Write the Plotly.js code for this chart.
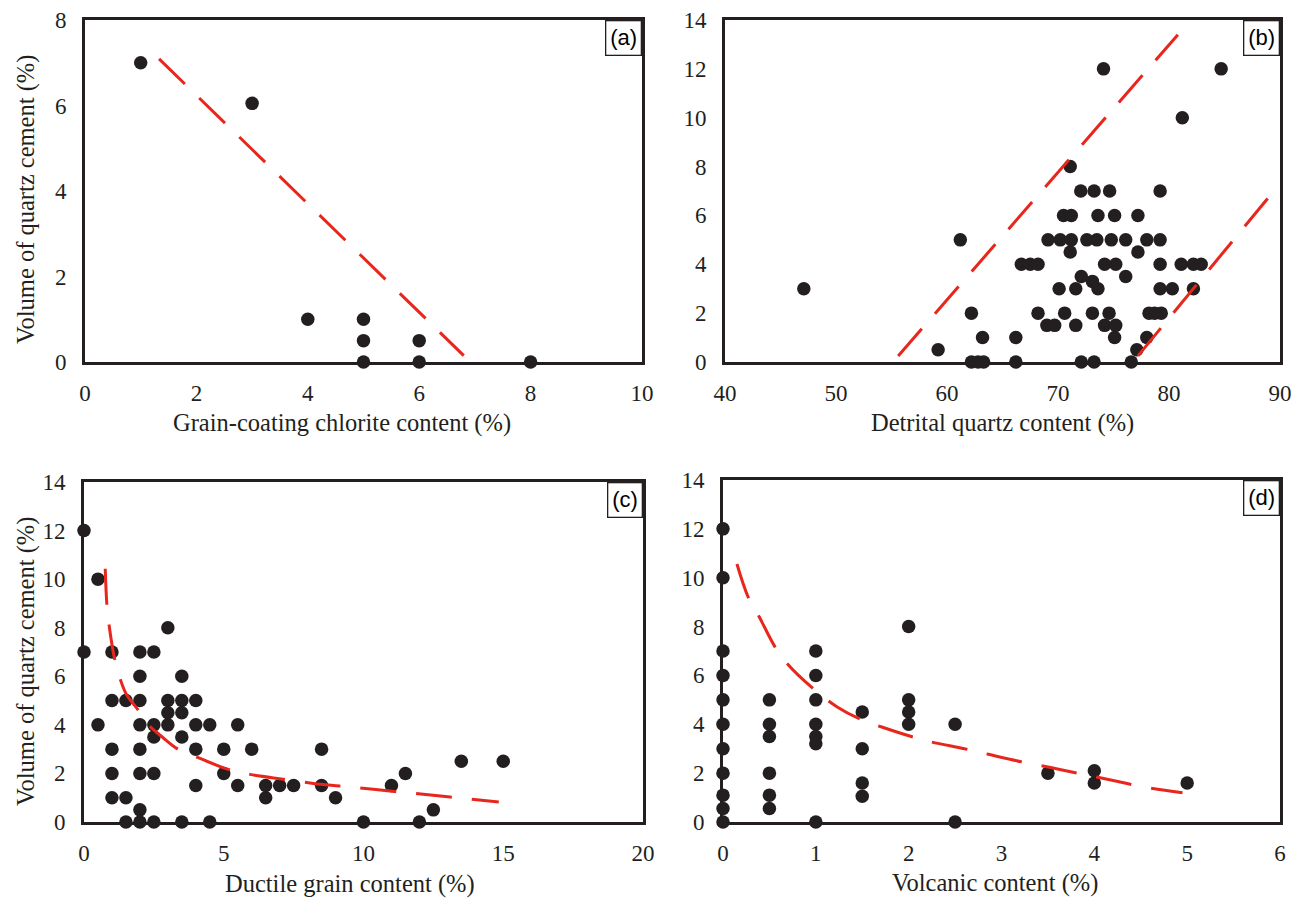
<!DOCTYPE html>
<html>
<head>
<meta charset="utf-8">
<script src="https://cdn.plot.ly/plotly-3.0.1.min.js"></script>
<style>html,body{margin:0;padding:0;background:#fff;}#chart{width:1309px;height:902px;}</style>
</head>
<body>
<div id="chart"></div>
<script>
// ---- Panel (a): grain-coating chlorite ----
const aX = [1, 3, 4, 5, 5, 5, 6, 6, 8];
const aY = [7, 6.05, 1, 1, 0.5, 0, 0.5, 0, 0];
const aLineX = [1.33, 6.8];
const aLineY = [7.09, 0.15];

// ---- Panel (b): detrital quartz ----
const bX = [47.1, 59.2, 61.2, 62.2, 62.2, 62.8, 63.3, 63.2, 66.2, 66.2, 66.7, 67.5, 68.2, 68.2, 69.0, 69.7,
  69.1, 70.1, 70.2, 70.6, 70.5, 71.2, 71.1, 71.2, 71.1, 71.6, 71.6, 72.05, 72.1, 72.1, 72.6, 73.1, 73.1, 73.25,
  73.25, 73.5, 73.6, 73.6, 74.1, 74.2, 74.2, 74.65, 74.6, 74.8, 75.1, 75.2, 75.2, 75.1, 76.1, 76.1, 76.6, 77.1,
  77.2, 77.2, 78.0, 78.0, 78.2, 78.7, 79.2, 79.2, 79.2, 79.2, 79.3, 80.3, 81.2, 81.1, 82.2, 82.9, 82.2, 84.7];
const bY = [3, 0.5, 5, 2, 0, 0, 0, 1, 1, 0, 4, 4, 4, 2, 1.5, 1.5,
  5, 3, 5, 2, 6, 6, 8, 5, 4.5, 3, 1.5, 7, 3.5, 0, 5, 3.3, 2, 7,
  0, 5, 6, 3, 12, 4, 1.5, 7, 2, 5, 6, 4, 1.5, 1, 5, 3.5, 0, 0.5,
  6, 4.5, 5, 1, 2, 2, 7, 5, 4, 3, 2, 3, 10, 4, 4, 4, 3, 12];
const bLine1X = [55.6, 80.8];
const bLine1Y = [0.25, 13.4];
const bLine2X = [77.2, 88.9];
const bLine2Y = [0.25, 6.7];

// ---- Panel (c): ductile grains ----
const cX = [0, 0, 0.5, 0.5, 1, 1, 1, 1, 1, 1.5, 1.5, 1.5, 2, 2, 2, 2, 2, 2, 2, 2,
  2.5, 2.5, 2.5, 2.5, 2.5, 3, 3, 3, 3, 3.5, 3.5, 3.5, 3.5, 3.5, 4, 4, 4, 4, 4.5, 4.5,
  5, 5, 5.5, 5.5, 6, 6.5, 6.5, 7, 7.5, 8.5, 8.5, 9, 10, 11, 11.5, 12, 12.5, 13.5, 15];
const cY = [12, 7, 10, 4, 7, 5, 3, 2, 1, 5, 1, 0, 7, 6, 5, 4, 3, 2, 0.5, 0,
  7, 4, 3.5, 2, 0, 8, 5, 4.5, 4, 6, 5, 4.5, 3.5, 0, 5, 4, 3, 1.5, 4, 0,
  3, 2, 4, 1.5, 3, 1.5, 1, 1.5, 1.5, 3, 1.5, 1, 0, 1.5, 2, 0, 0.5, 2.5, 2.5];
const cCurveX = [0.76, 0.82, 0.90, 1.01, 1.10, 1.30, 1.52, 1.94, 2.35, 2.83, 3.33, 4.00, 5.10, 5.94, 7.13, 8.21, 9.14, 11.1, 13.1, 14.84];
const cCurveY = [10.43, 8.92, 8.09, 7.24, 6.69, 5.87, 5.25, 4.61, 3.95, 3.47, 3.02, 2.69, 2.19, 1.96, 1.76, 1.59, 1.48, 1.26, 1.03, 0.82];

// ---- Panel (d): volcanic ----
const dX = [0, 0, 0, 0, 0, 0, 0, 0, 0, 0, 0, 0.5, 0.5, 0.5, 0.5, 0.5, 0.5,
  1, 1, 1, 1, 1, 1, 1, 1.5, 1.5, 1.5, 1.5, 2, 2, 2, 2, 2.5, 2.5, 3.5, 4, 4, 5];
const dY = [12, 10, 7, 6, 5, 4, 3, 2, 1.1, 0.55, 0, 5, 4, 3.5, 2, 1.1, 0.55,
  7, 6, 5, 4, 3.5, 3.2, 0, 4.5, 3, 1.6, 1.05, 8, 5, 4.5, 4, 4, 0, 2, 2.1, 1.6, 1.6];
const dCurveX = [0.15, 0.27, 0.39, 0.56, 0.69, 0.96, 1.23, 1.49, 1.71, 2.02, 2.24, 2.6, 2.86, 3.22, 3.53, 3.84, 4.19, 4.54, 4.95];
const dCurveY = [10.56, 9.22, 8.4, 7.17, 6.49, 5.5, 4.71, 4.19, 3.89, 3.51, 3.28, 3.0, 2.77, 2.46, 2.23, 1.98, 1.71, 1.43, 1.20];

// ---- Text ----
const yTitle = 'Volume of quartz cement (%)';
const xTitles = ['Grain-coating chlorite content (%)', 'Detrital quartz content (%)', 'Ductile grain content (%)', 'Volcanic content (%)'];
const panelLabels = ['(a)', '(b)', '(c)', '(d)'];

const INK = '#231f20';
const RED = '#e8261c';
const W = 1309, H = 902;
const DASH = '36px,20px';
const SERIF = 'Liberation Serif';

function pts(x, y, xa, ya) {
  return {x: x, y: y, xaxis: xa, yaxis: ya, type: 'scatter', mode: 'markers',
    marker: {size: 13.5, color: INK}, cliponaxis: false, hoverinfo: 'skip'};
}
function ln(x, y, xa, ya, shape) {
  return {x: x, y: y, xaxis: xa, yaxis: ya, type: 'scatter', mode: 'lines',
    line: {color: RED, width: 3, dash: DASH, shape: shape || 'linear', smoothing: 1}, hoverinfo: 'skip'};
}

const data = [
  pts(aX, aY, 'x', 'y'), ln(aLineX, aLineY, 'x', 'y'),
  pts(bX, bY, 'x2', 'y2'), ln(bLine1X, bLine1Y, 'x2', 'y2'), ln(bLine2X, bLine2Y, 'x2', 'y2'),
  pts(cX, cY, 'x3', 'y3'), ln(cCurveX, cCurveY, 'x3', 'y3', 'spline'),
  pts(dX, dY, 'x4', 'y4'), ln(dCurveX, dCurveY, 'x4', 'y4', 'spline')
];

function axis(d0, d1, range, dtick, anchor, isX) {
  return {
    domain: isX ? [d0 / W, d1 / W] : [1 - d1 / H, 1 - d0 / H],
    range: range, dtick: dtick, tick0: range[0], tickmode: 'linear',
    showline: true, mirror: true, linecolor: INK, linewidth: 2.8,
    ticks: '', showgrid: false, zeroline: false, anchor: anchor,
    tickfont: {family: SERIF, size: 23, color: INK},
    ticklabelstandoff: isX ? 9 : 11, fixedrange: true
  };
}

const layout = {
  width: W, height: H,
  margin: {l: 0, r: 0, t: 0, b: 0},
  paper_bgcolor: '#ffffff', plot_bgcolor: '#ffffff',
  showlegend: false,
  font: {family: SERIF, color: INK},
  xaxis: axis(85, 642, [0, 10], 2, 'y', true),
  yaxis: axis(20, 362, [0, 8], 2, 'x', false),
  xaxis2: axis(725, 1280, [40, 90], 10, 'y2', true),
  yaxis2: axis(20, 362, [0, 14], 2, 'x2', false),
  xaxis3: axis(84, 643, [0, 20], 5, 'y3', true),
  yaxis3: axis(482, 822, [0, 14], 2, 'x3', false),
  xaxis4: axis(723, 1280, [0, 6], 1, 'y4', true),
  yaxis4: axis(480, 822, [0, 14], 2, 'x4', false),
  annotations: []
};

const xTitlePos = [[342, 423], [1002, 423], [350, 884], [995, 883]];
xTitles.forEach(function (t, i) {
  layout.annotations.push({text: t, xref: 'paper', yref: 'paper', x: xTitlePos[i][0] / W, y: 1 - xTitlePos[i][1] / H,
    xanchor: 'center', yanchor: 'middle', showarrow: false, font: {family: SERIF, size: 24.5, color: INK}});
});
[[26, 200], [26, 662]].forEach(function (p) {
  layout.annotations.push({text: yTitle, xref: 'paper', yref: 'paper', x: p[0] / W, y: 1 - p[1] / H,
    xanchor: 'center', yanchor: 'middle', showarrow: false, textangle: -90, font: {family: SERIF, size: 24.5, color: INK}});
});
const refs = [['x', 'y'], ['x2', 'y2'], ['x3', 'y3'], ['x4', 'y4']];
panelLabels.forEach(function (t, i) {
  layout.annotations.push({text: t, xref: refs[i][0] + ' domain', yref: refs[i][1] + ' domain', x: 1, y: 1,
    xanchor: 'right', yanchor: 'top', showarrow: false,
    font: {family: 'Liberation Sans', size: 22, color: '#000'},
    bordercolor: INK, borderwidth: 1.3, borderpad: 4, bgcolor: '#ffffff'});
});

Plotly.newPlot('chart', data, layout, {staticPlot: true, displayModeBar: false});
</script>
</body>
</html>
